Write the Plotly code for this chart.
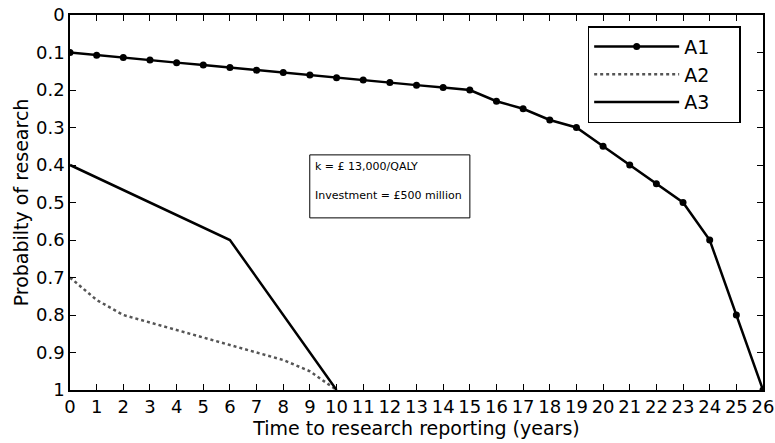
import plotly.graph_objects as go

years_a1 = list(range(0, 27))
prob_a1 = [0.10, 0.107, 0.113, 0.12, 0.127, 0.133, 0.14, 0.147, 0.153, 0.16, 0.167,
           0.173, 0.18, 0.187, 0.193, 0.20, 0.23, 0.25, 0.28, 0.30, 0.35, 0.40,
           0.45, 0.50, 0.60, 0.80, 1.0]
years_a2 = list(range(0, 11))
prob_a2 = [0.70, 0.76, 0.80, 0.82, 0.84, 0.86, 0.88, 0.90, 0.92, 0.95, 1.0]
years_a3 = [0, 6, 10]
prob_a3 = [0.40, 0.60, 1.0]

x_ticks = list(range(0, 27))
y_ticks = [0, 0.1, 0.2, 0.3, 0.4, 0.5, 0.6, 0.7, 0.8, 0.9, 1]
y_tick_text = ["0", "0.1", "0.2", "0.3", "0.4", "0.5", "0.6", "0.7", "0.8", "0.9", "1"]

FONT = "DejaVu Sans, Arial, sans-serif"
PAD = "&nbsp;" * 4  # widen legend box like the original

fig = go.Figure()
fig.add_trace(go.Scatter(x=years_a1, y=prob_a1, name="A1" + PAD, mode="lines+markers",
                         line=dict(color="black", width=2.5),
                         marker=dict(color="black", size=7)))
fig.add_trace(go.Scatter(x=years_a2, y=prob_a2, name="A2" + PAD, mode="lines",
                         line=dict(color="#555555", width=2.5, dash="dot")))
fig.add_trace(go.Scatter(x=years_a3, y=prob_a3, name="A3" + PAD, mode="lines",
                         line=dict(color="black", width=2.5)))

axis_common = dict(showline=True, linecolor="black", linewidth=1.5, mirror="ticks",
                   ticks="inside", ticklen=6, tickcolor="black", showgrid=False,
                   zeroline=False, automargin=False)

fig.update_xaxes(range=[0, 26], tickvals=x_ticks,
                 tickfont=dict(size=18, color="black", family=FONT),
                 title=dict(text="Time to research reporting (years)",
                            font=dict(size=19, color="black", family=FONT), standoff=0),
                 **axis_common)
fig.update_yaxes(range=[1, 0], tickvals=y_ticks, ticktext=y_tick_text,
                 tickfont=dict(size=18, color="black", family=FONT),
                 title=dict(text="Probabilty of research",
                            font=dict(size=19, color="black", family=FONT), standoff=2),
                 **axis_common)

# text box inside the plot
fig.add_shape(type="rect", xref="paper", yref="paper", x0=0.346, x1=0.577, y0=0.459, y1=0.627,
              line=dict(color="black", width=1), fillcolor="white", layer="below")
fig.add_annotation(xref="paper", yref="paper", x=0.35, y=0.62, xanchor="left", yanchor="top",
                   text="k = £ 13,000/QALY<br><br>Investment = £500 million",
                   showarrow=False, align="left",
                   font=dict(size=11, color="black", family=FONT))

fig.update_layout(
    width=775, height=443,
    margin=dict(l=70, r=12, t=15, b=53),
    plot_bgcolor="white", paper_bgcolor="white",
    legend=dict(x=0.747, y=0.97, xanchor="left", yanchor="top",
                bordercolor="black", borderwidth=1.5, bgcolor="white",
                font=dict(size=19, color="black", family=FONT),
                itemwidth=85, tracegroupgap=0),
    showlegend=True,
)

# page body has a default margin; drop it so the figure sits at the corner
fig.write_html("out.html", config={"displayModeBar": False},
               post_script="document.body.style.margin='0';")
